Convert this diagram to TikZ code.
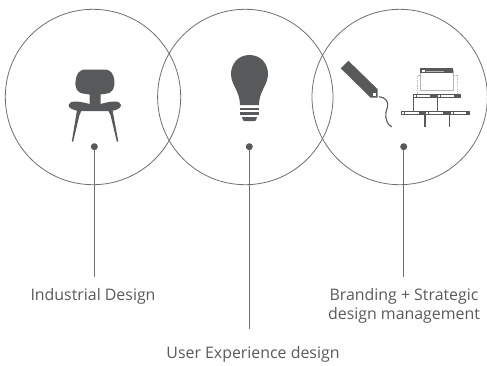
\documentclass[tikz,border=0pt]{standalone}
\usepackage{fontspec}
\setmainfont{Open Sans}
\definecolor{ink}{HTML}{58595B}
\definecolor{ring}{HTML}{6D6E71}
\definecolor{lab}{HTML}{5A5A5A}
\definecolor{pale}{HTML}{B5B6B8}
\tikzset{
  circ/.style={circle,draw=ring,line width=0.8pt,minimum size=175.4bp,inner sep=0},
  dot/.style={circle,fill=ink,minimum size=7bp,inner sep=0},
  lead/.style={draw=ring,line width=0.8pt},
  lbl/.style={text=lab,font=\fontsize{15.9bp}{18.8bp}\selectfont,align=center,inner sep=0},
  dotline/.style={draw=pale,line width=1.3pt,dash pattern=on 1.3pt off 1.1pt},
  drop/.style={draw=ink,line width=1pt}
}
\begin{document}
\begin{tikzpicture}[x=1bp,y=-1bp]
\useasboundingbox (0,0) rectangle (487,365);
\node[circ] (c1) at (93,97) {};
\node[circ] (c2) at (245.3,97) {};
\node[circ] (c3) at (399.7,97) {};
\node[dot] (d1) at (94.3,146.7) {};
\node[dot] (d2) at (249.3,146.7) {};
\node[dot] (d3) at (403.7,146.7) {};
\node[lbl] (l1) at (93,296) {Industrial Design};
\node[lbl] (l2) at (253,354) {User Experience design};
\node[lbl] (l3) at (404,305.5) {Branding + Strategic\\design management};
\coordinate (e1) at (94.3,277);
\coordinate (e2) at (249.3,329);
\coordinate (e3) at (403.7,277);
\draw[lead] (d1) -- (e1);
\draw[lead] (d2) -- (e2);
\draw[lead] (d3) -- (e3);
% chair
\fill[ink] (86,69.5) .. controls (79,69.5) and (76.5,74) .. (75.7,80) .. controls (74.5,88) and (77,93) .. (84,93.7)
 -- (89.5,94.5) -- (89.5,105) -- (100.5,105) -- (100.5,94.5) -- (106,93.7) .. controls (113,93) and (115,88) .. (114.3,80) .. controls (113.5,74) and (111,69.5) .. (104,69.5) -- cycle;
\fill[ink] (68.5,105) .. controls (70,100.5) and (77,100.5) .. (89.5,104) -- (100.5,104) .. controls (113,100.5) and (120,100.5) .. (121,105) .. controls (121.5,108) and (116,111) .. (109,111) .. controls (103,111) and (100,111) .. (95,111) .. controls (90,111) and (87,111) .. (81,111) .. controls (74,111) and (68,108) .. (68.5,105) -- cycle;
\fill[ink] (77,110) -- (81.5,110.5) -- (79.5,115) -- (73.2,141.5) -- (71.8,141.5) -- cycle;
\fill[ink] (108,110) -- (112.5,110) -- (118.3,141.5) -- (116.8,141.5) -- (110.5,115) -- cycle;
% bulb
\fill[ink] (249.5,55) .. controls (238,55) and (231,64) .. (231,74) .. controls (231,85) and (240,91) .. (240,105) -- (259,105) .. controls (259,91) and (268,85) .. (268,74) .. controls (268,64) and (261,55) .. (249.5,55) -- cycle;
\fill[ink] (240,107.5) rectangle (259,110);
\fill[ink] (240,112) rectangle (259,114.5);
\fill[ink] (242,117) -- (257,117) -- (256,120.5) .. controls (255,121.5) and (244,121.5) .. (243,120.5) -- cycle;
% tag
\fill[ink] (340.7,68.3) -- (348.3,60.7) -- (377.7,89.3) -- (377.7,97.7) -- (370.7,97.7) -- cycle;
\fill[white] (372.8,92.8) rectangle (375.8,95.8);
\draw[ink,line width=1.1pt,line cap=round] (379.3,96.7) .. controls (385,97) and (389,102) .. (387.5,107) .. controls (385,113) and (384,122) .. (391.5,126.7);
% sitemap window
\draw[pale,line width=0.9pt] (420.3,70) rectangle (453,90.7);
\fill[ink] (420,68.3) rectangle (453.3,72.7);
\fill[white] (422,69.5) rectangle (424.5,72);
\draw[pale,line width=0.9pt] (426,71) -- (444.3,71);
\draw[dotline] (419.5,75.5) -- (417.3,75.5) -- (417.3,93.5);
\draw[dotline] (454,75.5) -- (457.7,75.5) -- (457.7,93.5);
% row 1
\fill[ink] (413.3,94) rectangle (461,97.7);
\fill[white] (414.3,95) rectangle (416,96.7);
\fill[white] (416.8,95) rectangle (430,96.7);
\fill[white] (438.3,95) rectangle (440,96.7);
\fill[white] (440.8,95) rectangle (453.5,96.7);
\draw[drop] (413.8,97.7) -- (413.8,111);
\draw[drop] (437.3,97.7) -- (437.3,111);
% row 2
\fill[ink] (401,111) rectangle (470,115);
\fill[white] (402,112.2) rectangle (404,113.8);
\fill[white] (405,112.2) rectangle (418.5,113.8);
\fill[white] (426,112.2) rectangle (428,113.8);
\fill[white] (429.3,112.2) rectangle (442.5,113.8);
\fill[white] (450.5,112.2) rectangle (452.5,113.8);
\fill[white] (453.5,112.2) rectangle (465.5,113.8);
\draw[drop,line width=1.8pt] (425,115) -- (425,126.7);
\draw[drop] (449.3,115) -- (449.3,126.7);
\end{tikzpicture}
\end{document}
